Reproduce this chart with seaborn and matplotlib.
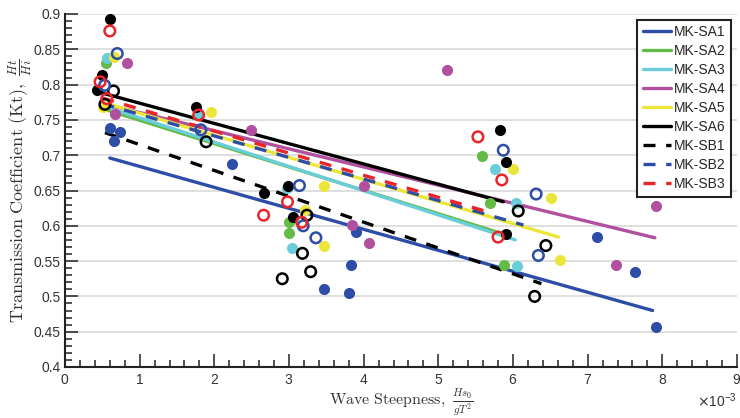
import numpy as np
import pandas as pd
import matplotlib
matplotlib.use("Agg")
import matplotlib.pyplot as plt
import seaborn as sns
from matplotlib.ticker import MultipleLocator, ScalarFormatter, FormatStrFormatter

# ---------------- data (x in units of 1e-3) ----------------
SCALE = 1e-3
names = ["MK-SA1", "MK-SA2", "MK-SA3", "MK-SA4", "MK-SA5", "MK-SA6",
         "MK-SB1", "MK-SB2", "MK-SB3"]

sa1_x = [0.60, 0.74, 0.65, 2.24, 3.47, 3.81, 3.83, 3.90, 7.13, 7.63, 7.91]
sa1_y = [0.738, 0.733, 0.720, 0.688, 0.510, 0.505, 0.544, 0.591, 0.584, 0.534, 0.456]
sa2_x = [0.55, 3.00, 3.00, 5.58, 5.69, 5.88]
sa2_y = [0.831, 0.605, 0.590, 0.699, 0.633, 0.545]
sa3_x = [0.56, 1.78, 2.97, 3.04, 5.76, 6.04, 6.06]
sa3_y = [0.837, 0.760, 0.654, 0.569, 0.680, 0.632, 0.543]
sa4_x = [0.83, 0.67, 2.49, 3.85, 4.01, 4.07, 5.11, 7.38, 7.92]
sa4_y = [0.831, 0.759, 0.736, 0.601, 0.656, 0.575, 0.820, 0.544, 0.628]
sa5_x = [0.66, 0.51, 1.96, 3.47, 3.21, 3.47, 6.00, 6.51, 6.63]
sa5_y = [0.839, 0.768, 0.761, 0.657, 0.623, 0.571, 0.680, 0.639, 0.552]
sa6_x = [0.60, 0.49, 0.43, 1.76, 2.66, 2.99, 3.06, 5.82, 5.91, 5.91]
sa6_y = [0.893, 0.813, 0.792, 0.768, 0.646, 0.656, 0.612, 0.735, 0.690, 0.589]
sb1_x = [0.65, 0.535, 1.89, 3.24, 3.18, 3.29, 2.91, 6.07, 6.44, 6.29]
sb1_y = [0.791, 0.772, 0.719, 0.615, 0.561, 0.535, 0.525, 0.621, 0.572, 0.500]
sb2_x = [0.70, 0.53, 1.82, 3.14, 3.19, 3.36, 5.87, 6.31, 6.34]
sb2_y = [0.844, 0.799, 0.736, 0.657, 0.600, 0.583, 0.707, 0.645, 0.558]
sb3_x = [0.60, 0.47, 0.56, 1.79, 2.66, 2.98, 3.17, 5.53, 5.85, 5.80]
sb3_y = [0.876, 0.804, 0.780, 0.757, 0.615, 0.634, 0.605, 0.726, 0.665, 0.584]

# linear-fit line endpoints
fit_x0 = [0.60, 0.50, 0.50, 0.55, 0.50, 0.50, 0.535, 0.50, 0.50]
fit_x1 = [7.87, 5.85, 6.03, 7.90, 6.61, 5.87, 6.38, 6.14, 5.62]
fit_y0 = [0.696, 0.766, 0.770, 0.772, 0.775, 0.788, 0.732, 0.773, 0.781]
fit_y1 = [0.480, 0.589, 0.580, 0.583, 0.584, 0.634, 0.518, 0.601, 0.621]

xticks = [0, 1, 2, 3, 4, 5, 6, 7, 8, 9]

# ---------------- style ----------------
pts_x = [sa1_x, sa2_x, sa3_x, sa4_x, sa5_x, sa6_x, sb1_x, sb2_x, sb3_x]
pts_y = [sa1_y, sa2_y, sa3_y, sa4_y, sa5_y, sa6_y, sb1_y, sb2_y, sb3_y]
colors = ["#2D4DA6", "#64BB45", "#6ACDDA", "#B0509F", "#EDE63A", "#000000",
          "#000000", "#2D4DA6", "#E8262A"]
dashed = [False] * 6 + [True] * 3

sns.set_theme(style="white")
plt.rcParams["font.family"] = ["Liberation Sans", "DejaVu Sans"]

fig = plt.figure(figsize=(7.4, 4.18), dpi=100)
ax = fig.add_axes([65 / 740, 1 - 367 / 418, (737 - 65) / 740, (367 - 14) / 418])

for i, name in enumerate(names):
    fit_df = pd.DataFrame({"x": np.array([fit_x0[i], fit_x1[i]]) * SCALE,
                           "y": [fit_y0[i], fit_y1[i]]})
    ls = (0, (3.6, 3.2)) if dashed[i] else "-"
    sns.lineplot(data=fit_df, x="x", y="y", color=colors[i], linewidth=2.4,
                 linestyle=ls, sort=False, errorbar=None, label=name, ax=ax,
                 zorder=2)

for i, name in enumerate(names):
    df = pd.DataFrame({"x": np.array(pts_x[i]) * SCALE, "y": pts_y[i]})
    if dashed[i]:
        sns.scatterplot(data=df, x="x", y="y", color=colors[i], facecolor="none",
                        edgecolor=colors[i], linewidth=1.8, s=58, marker="o",
                        legend=False, ax=ax, zorder=4)
    else:
        sns.scatterplot(data=df, x="x", y="y", color=colors[i], linewidth=0,
                        s=64, marker="o", legend=False, ax=ax, zorder=3)

ax.set_xlim(0, 9 * SCALE)
ax.set_ylim(0.4, 0.9)
ax.set_xticks(np.array(xticks) * SCALE)
ax.xaxis.set_minor_locator(MultipleLocator(0.2 * SCALE))
fmt = ScalarFormatter(useMathText=True)
fmt.set_powerlimits((0, 0))
ax.xaxis.set_major_formatter(fmt)
ax.yaxis.set_major_locator(MultipleLocator(0.05))
ax.yaxis.set_minor_locator(MultipleLocator(0.01))
ax.yaxis.set_major_formatter(FormatStrFormatter("%g"))

ax.set_axisbelow(True)
ax.yaxis.grid(True, color="#dcdcdc", linewidth=1.3)
ax.xaxis.grid(False)
for s in ["top", "right"]:
    ax.spines[s].set_visible(False)
for s in ["left", "bottom"]:
    ax.spines[s].set_color("#222222")
    ax.spines[s].set_linewidth(1.5)

ax.tick_params(which="both", direction="in", color="#222222", width=1.1,
               labelsize=10, labelcolor="#333333")
ax.tick_params(which="major", length=9.5)
ax.tick_params(which="minor", length=4.8)
ax.tick_params(axis="x", which="both", pad=4.5, bottom=True)
ax.tick_params(axis="y", which="both", pad=3, left=True)
ax.xaxis.get_offset_text().set_fontsize(10)
ax.xaxis.get_offset_text().set_color("#333333")

ax.set_ylabel(r"$\mathrm{Transmission\ Coefficient\ (Kt)},\ \frac{Ht}{Hi}$",
              fontsize=13, math_fontfamily="cm", color="#333333", labelpad=0)
ax.set_xlabel(r"$\mathrm{Wave\ Steepness},\ \frac{Hs_0}{gT^2}$",
              fontsize=11.5, math_fontfamily="cm", color="#333333", labelpad=0.2)

handles, labels = ax.get_legend_handles_labels()
leg = ax.legend(handles, labels, loc="upper right", fontsize=10, frameon=True,
                fancybox=False, edgecolor="#222222", facecolor="white",
                framealpha=1, handlelength=2.0, handletextpad=0.25,
                labelspacing=0.36, borderpad=0.4, borderaxespad=0.4)
leg.get_frame().set_linewidth(1.5)

fig.savefig("out.png", dpi=100)
